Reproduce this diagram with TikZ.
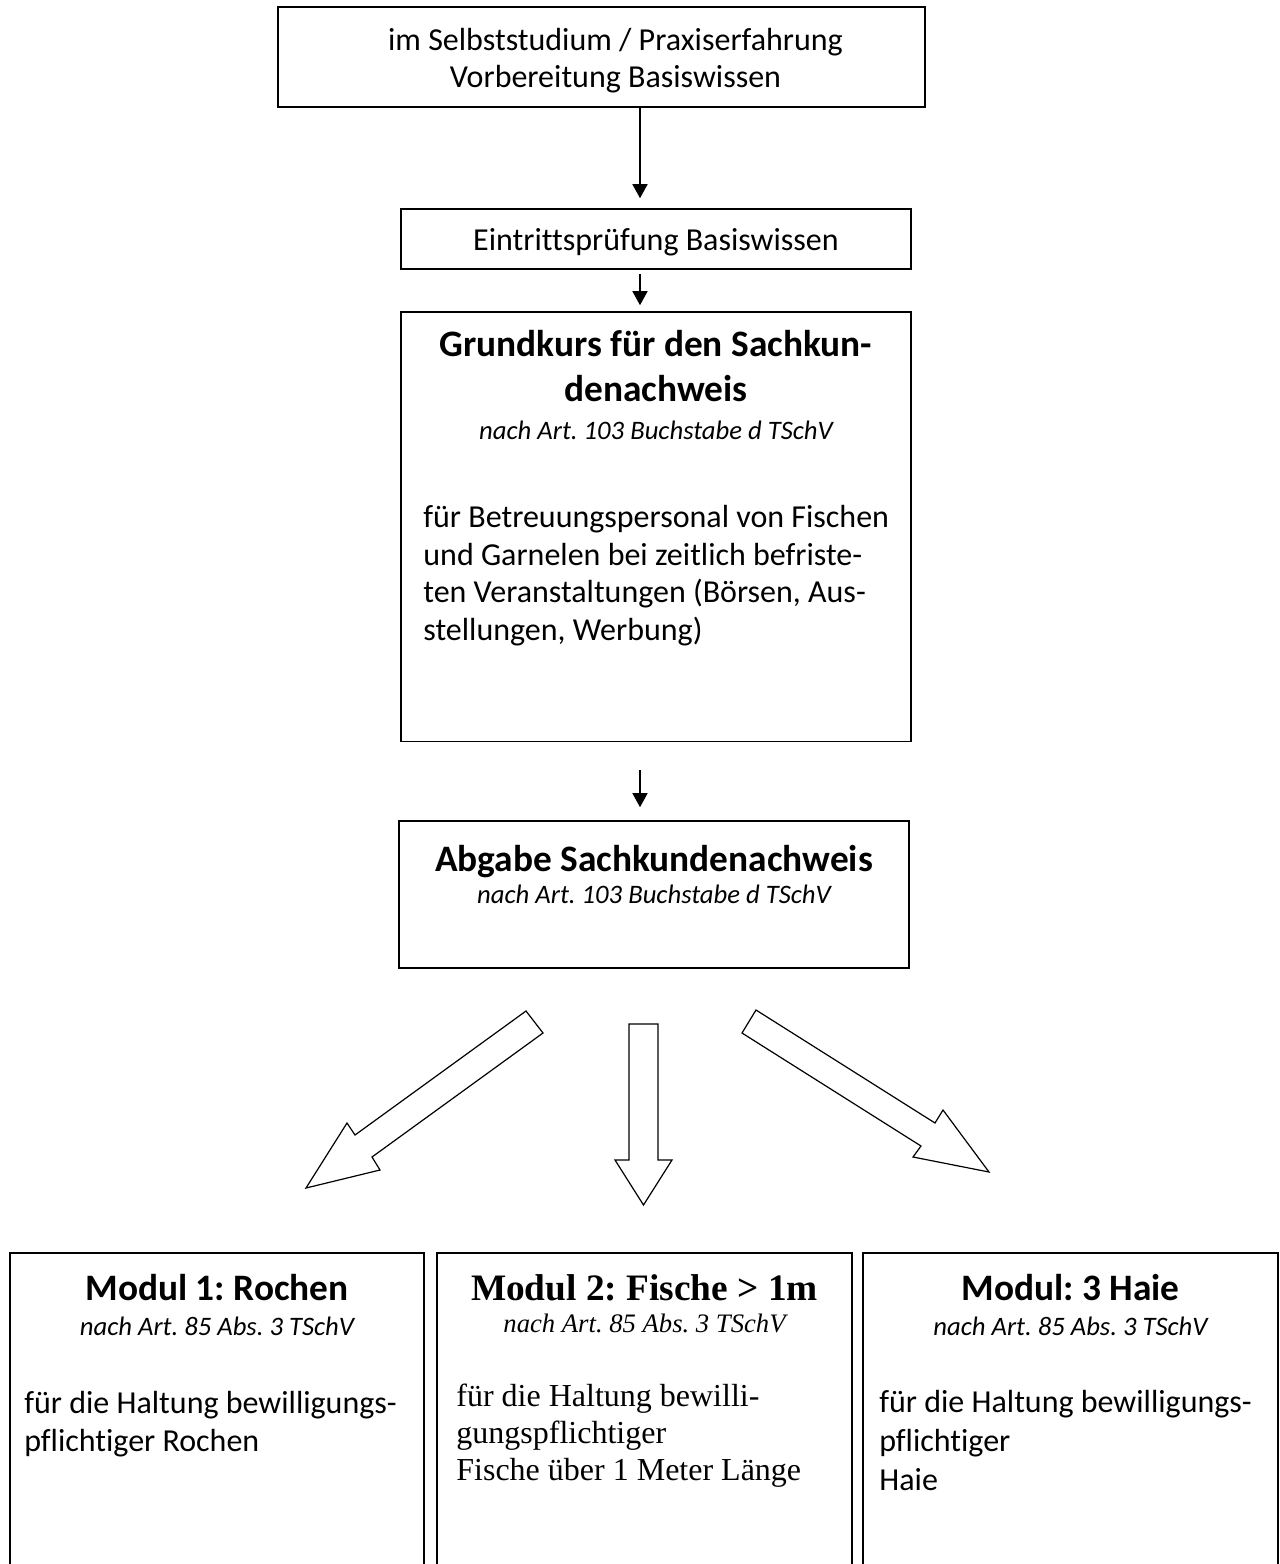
\documentclass[tikz,border=0pt]{standalone}
\usepackage{fontspec}
\setmainfont{Carlito}[Ligatures={NoCommon,NoContextual}]
\newfontfamily\timesfont{Liberation Serif}[Ligatures={NoCommon}]
\frenchspacing
\usetikzlibrary{arrows.meta}
\tikzset{>={Triangle[length=7pt,width=7.5pt]}}
\tikzset{
  box/.style={draw, line width=0.8pt, inner sep=0pt},
  modbox/.style={line width=1.1pt},
  flow/.style={->, line width=0.75pt},
  bigarrow/.style={line width=0.6pt, line join=miter},
  body/.style={font=\fontsize{16}{18.75}\selectfont, inner sep=0pt},
  head/.style={font=\fontsize{18.67}{22.5}\selectfont\bfseries, inner sep=0pt},
  law/.style={font=\fontsize{13.33}{16}\selectfont\itshape, inner sep=0pt},
  sbody/.style={font=\timesfont\fontsize{16}{18.5}\selectfont, inner sep=0pt},
  shead/.style={font=\timesfont\fontsize{18.67}{22.5}\selectfont\bfseries, inner sep=0pt},
  slaw/.style={font=\timesfont\fontsize{13.33}{16}\selectfont\itshape, inner sep=0pt},
}

\begin{document}
\begin{tikzpicture}[x=0.5pt, y=-0.5pt]
\useasboundingbox (0,0) rectangle (1280,1564);

% steps (base of a multi-line node = its last line)
\node[box, minimum width=323.5pt, minimum height=50pt] (prep) at (601.5,57) {};
\node[body, anchor=base, align=center, font=\fontsize{16}{18.5}\selectfont] (prepText) at (615.5,87) {im Selbststudium / Praxiserfahrung\\Vorbereitung Basiswissen};

\node[box, minimum width=255pt, minimum height=30pt] (exam) at (656,239) {};
\node[body, anchor=base] (examText) at (656,250) {Eintrittsprüfung Basiswissen};

\node[box, minimum width=255pt, minimum height=214.75pt] (course) at (656,526.75) {};
\node[head, anchor=base, align=center] (courseHead) at (656,401) {Grundkurs für den Sachkun-\\denachweis};
\node[law, anchor=base] (courseLaw) at (656,439) {nach Art. 103 Buchstabe d TSchV};
\node[body, anchor=base west, align=left] (courseText) at (423,640) {für Betreuungspersonal von Fischen\\und Garnelen bei zeitlich befriste-\\ten Veranstaltungen (Börsen, Aus-\\stellungen, Werbung)};

\node[box, minimum width=255pt, minimum height=73.5pt] (cert) at (654,894.5) {};
\node[head, anchor=base] (certHead) at (654,871) {Abgabe Sachkundenachweis};
\node[law, anchor=base] (certLaw) at (654,903) {nach Art. 103 Buchstabe d TSchV};

% thin arrows
\coordinate (axis) at (640,0);
\draw[flow, shorten >=5pt] (prep.south -| axis) -- (exam.north -| axis);
\draw[flow, shorten <=2pt, shorten >=3pt] (exam.south -| axis) -- (course.north -| axis);
\draw[flow, shorten <=14pt, shorten >=6.5pt] (course.south -| axis) -- (cert.north -| axis);

% block arrows
\draw[bigarrow] (526,1011) -- (355,1135) -- (347,1123) -- (306,1188) -- (380,1170) -- (372,1157) -- (543,1033) -- cycle;
\draw[bigarrow] (629,1024) -- (629,1160) -- (615,1160) -- (643.5,1205) -- (672,1160) -- (658,1160) -- (658,1024) -- cycle;
\draw[bigarrow] (756,1010) -- (935,1123) -- (943,1110) -- (989,1172) -- (913,1157) -- (921,1146) -- (742,1033) -- cycle;

% modules
\draw[modbox] (10,1570) |- (424,1253) -- (424,1570);
\node[head, anchor=base] (rayHead) at (217,1300) {Modul 1: Rochen};
\node[law, anchor=base] (rayLaw) at (217,1335) {nach Art. 85 Abs. 3 TSchV};
\node[body, anchor=base west, align=left] (rayText) at (24,1451) {für die Haltung bewilligungs-\\pflichtiger Rochen};

\draw[modbox] (437,1570) |- (852,1253) -- (852,1570);
\node[shead, anchor=base] (fishHead) at (644.5,1300) {Modul 2: Fische > 1m};
\node[slaw, anchor=base] (fishLaw) at (644.5,1332) {nach Art. 85 Abs. 3 TSchV};
\node[sbody, anchor=base west, align=left] (fishText) at (456,1480) {für die Haltung bewilli-\\gungspflichtiger\\Fische über 1 Meter Länge};

\draw[modbox] (863,1570) |- (1278,1253) -- (1278,1570);
\node[head, anchor=base] (sharkHead) at (1070.5,1300) {Modul: 3 Haie};
\node[law, anchor=base] (sharkLaw) at (1070.5,1335) {nach Art. 85 Abs. 3 TSchV};
\node[body, anchor=base west, align=left, font=\fontsize{16}{19.5}\selectfont] (sharkText) at (879,1490) {für die Haltung bewilligungs-\\pflichtiger\\Haie};
\end{tikzpicture}
\end{document}
